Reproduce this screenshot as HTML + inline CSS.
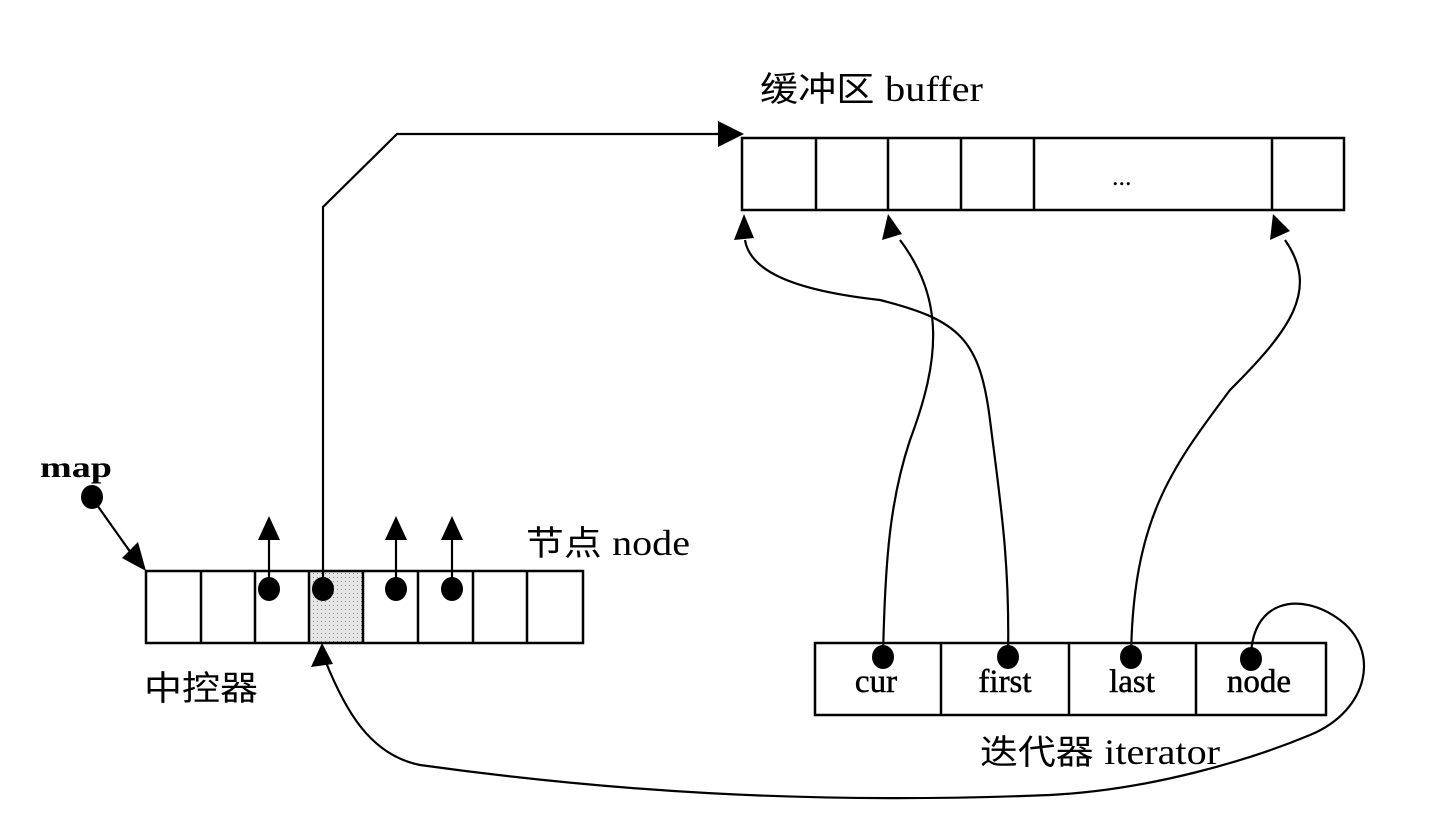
<!DOCTYPE html>
<html><head><meta charset="utf-8"><style>
html,body{margin:0;padding:0;background:#fff;}
svg{display:block}
text{font-family:"Liberation Serif","Noto Serif CJK SC",serif;fill:#000}
.cjk{font-family:"Liberation Sans","Noto Sans CJK SC",sans-serif}
</style></head><body>
<svg width="1431" height="823" viewBox="0 0 1431 823" xmlns="http://www.w3.org/2000/svg">
<defs>
<pattern id="dots" width="4" height="4" patternUnits="userSpaceOnUse"><rect width="4" height="4" fill="#e6e6e6"/><rect x="1" y="1" width="1" height="1" fill="#888"/></pattern>
</defs>
<g fill="none" stroke="#000" stroke-width="2.5">
<rect x="742" y="138" width="602" height="72"/>
<line x1="816" y1="138" x2="816" y2="210"/><line x1="888" y1="138" x2="888" y2="210"/>
<line x1="961" y1="138" x2="961" y2="210"/><line x1="1034" y1="138" x2="1034" y2="210"/>
<line x1="1272" y1="138" x2="1272" y2="210"/>
<rect x="309" y="571" width="54" height="72" fill="url(#dots)" stroke="none"/>
<rect x="146" y="571" width="437" height="72"/>
<line x1="201" y1="571" x2="201" y2="643"/><line x1="255" y1="571" x2="255" y2="643"/>
<line x1="309" y1="571" x2="309" y2="643"/><line x1="363" y1="571" x2="363" y2="643"/>
<line x1="418" y1="571" x2="418" y2="643"/><line x1="473" y1="571" x2="473" y2="643"/>
<line x1="527" y1="571" x2="527" y2="643"/>
<rect x="815" y="643" width="511" height="72"/>
<line x1="941" y1="643" x2="941" y2="715"/><line x1="1069" y1="643" x2="1069" y2="715"/>
<line x1="1196" y1="643" x2="1196" y2="715"/>
</g>
<g fill="none" stroke="#000" stroke-width="2.2">
<path d="M92 498 L136 560"/>
<path d="M269 588 V535"/><path d="M396 588 V535"/><path d="M452 588 V535"/>
<path d="M323 588 V207 L397 134 H725"/>
<path d="M883 657 C885 560 890 500 910 440 C940 360 945 300 900 240"/>
<path d="M1008 657 C1010 560 1000 500 990 420 C980 340 960 320 880 300 C790 290 750 270 745 240"/>
<path d="M1131 657 C1133 520 1170 470 1230 390 C1290 330 1320 290 1285 240"/>
<path d="M1251 660 C1250 600 1300 590 1340 620 C1380 650 1370 710 1310 735 C1250 760 1150 790 1050 795 C800 805 600 790 420 765 C370 755 345 710 325 660"/>
</g>
<g fill="#000">
<polygon points="146,571 122,558 138,542"/>
<polygon points="269,516 258,540 280,540"/><polygon points="396,516 385,540 407,540"/><polygon points="452,516 441,540 463,540"/>
<polygon points="744,134 718,121 718,147"/>
<polygon points="744,214 734,240 754,238"/><polygon points="888,214 882,240 902,234"/><polygon points="1273,214 1270,240 1290,231"/>
<polygon points="322,643 311,667 333,664"/>
<ellipse cx="92" cy="497" rx="11" ry="12"/>
<ellipse cx="269" cy="589" rx="11" ry="12"/><ellipse cx="323" cy="589" rx="11" ry="12"/>
<ellipse cx="396" cy="589" rx="11" ry="12"/><ellipse cx="452" cy="589" rx="11" ry="12"/>
<ellipse cx="883" cy="657" rx="11" ry="12"/><ellipse cx="1008" cy="657" rx="11" ry="12"/>
<ellipse cx="1131" cy="657" rx="11" ry="12"/><ellipse cx="1251" cy="659" rx="11" ry="12"/>
</g>
<text x="1112" y="185" font-size="26">...</text>
<text x="40" y="477" font-size="30" font-weight="bold" textLength="72" lengthAdjust="spacingAndGlyphs">map</text>
<text x="526" y="555" font-size="34" class="cjk" textLength="164" lengthAdjust="spacingAndGlyphs">节点 <tspan font-family="Liberation Serif" font-size="36">node</tspan></text>
<text x="144" y="700" font-size="34" class="cjk" textLength="114" lengthAdjust="spacingAndGlyphs">中控器</text>
<text x="760" y="101" font-size="34" class="cjk" textLength="223" lengthAdjust="spacingAndGlyphs">缓冲区 <tspan font-family="Liberation Serif" font-size="36">buffer</tspan></text>
<text x="876" y="692" font-size="33" text-anchor="middle" stroke="#000" stroke-width="0.5">cur</text>
<text x="1005" y="692" font-size="33" text-anchor="middle" stroke="#000" stroke-width="0.5">first</text>
<text x="1132" y="692" font-size="33" text-anchor="middle" stroke="#000" stroke-width="0.5">last</text>
<text x="1259" y="692" font-size="33" text-anchor="middle" stroke="#000" stroke-width="0.5">node</text>
<text x="980" y="764" font-size="34" class="cjk" textLength="240" lengthAdjust="spacingAndGlyphs">迭代器 <tspan font-family="Liberation Serif" font-size="36">iterator</tspan></text>
</svg>
</body></html>
